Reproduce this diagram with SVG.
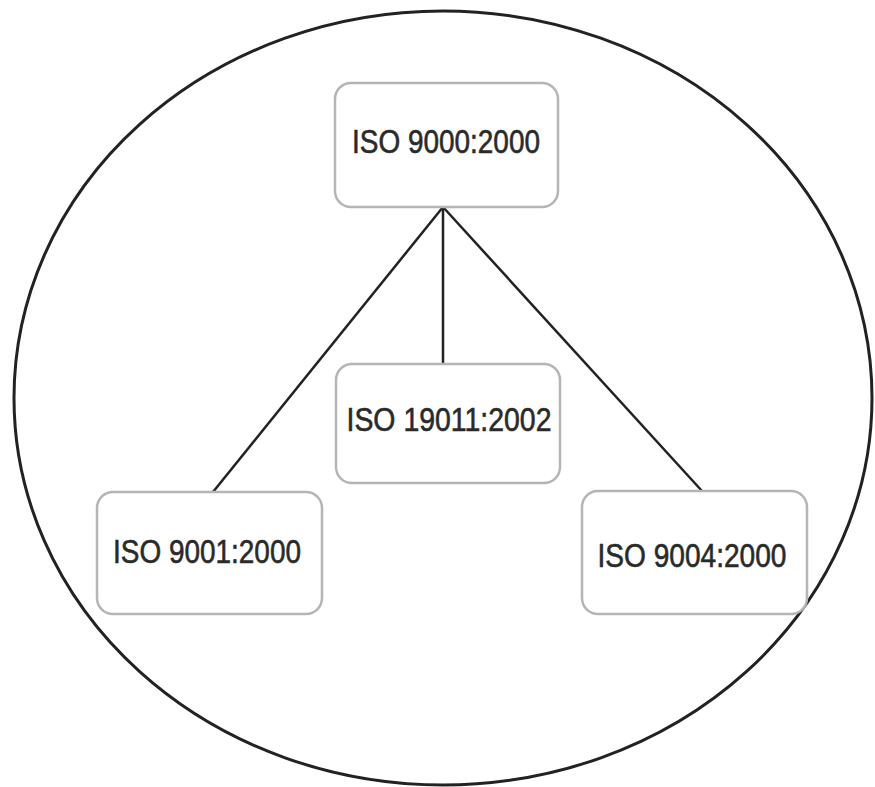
<svg xmlns="http://www.w3.org/2000/svg" width="875" height="787" viewBox="0 0 875 787">
<style>
.box{fill:#fff;stroke:#b5b5b5;stroke-width:2.5}
.lbl{font-family:"Liberation Sans",Arial,sans-serif;font-size:33px;fill:#2a2a2a;stroke:#2a2a2a;stroke-width:0.6;text-anchor:middle}
.con{stroke:#222;stroke-width:2.5;fill:none}
</style>
<rect width="875" height="787" fill="#fff"/>
<ellipse id="boundary" cx="443" cy="398" rx="429" ry="387" fill="none" stroke="#222" stroke-width="3"/>
<g id="connectors">
<line class="con" x1="443" y1="207" x2="443" y2="364"/>
<line class="con" x1="443" y1="207" x2="213" y2="492"/>
<line class="con" x1="443" y1="207" x2="702" y2="491"/>
</g>
<g id="n-9000">
<rect class="box" x="335" y="83" width="223" height="124" rx="16"/>
<text class="lbl" x="446" y="153" textLength="188" lengthAdjust="spacingAndGlyphs">ISO 9000:2000</text>
</g>
<g id="n-19011">
<rect class="box" x="336" y="364" width="224" height="119" rx="16"/>
<text class="lbl" x="449" y="431" textLength="205" lengthAdjust="spacingAndGlyphs">ISO 19011:2002</text>
</g>
<g id="n-9001">
<rect class="box" x="97" y="492" width="225" height="122" rx="16"/>
<text class="lbl" x="207" y="563" textLength="188" lengthAdjust="spacingAndGlyphs">ISO 9001:2000</text>
</g>
<g id="n-9004">
<rect class="box" x="582" y="491" width="225" height="123" rx="16"/>
<text class="lbl" x="692" y="567" textLength="189" lengthAdjust="spacingAndGlyphs">ISO 9004:2000</text>
</g>
</svg>
